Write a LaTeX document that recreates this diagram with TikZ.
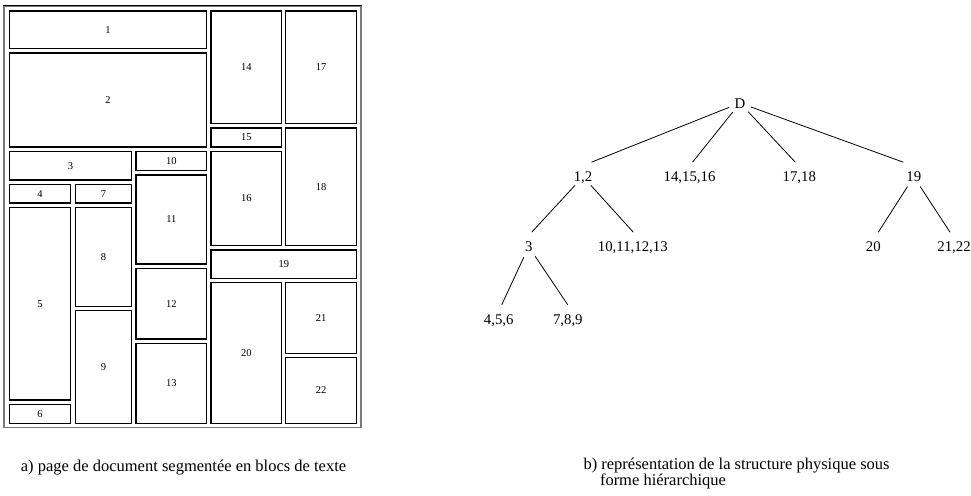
\documentclass[tikz,border=0pt]{standalone}
\usepackage{fontspec}
\setmainfont{Liberation Serif}
\usetikzlibrary{calc}
\definecolor{FrameGray}{HTML}{7A7A7A}

\begin{document}
\begin{tikzpicture}[
        x=1pt,y=-1pt,
        blk/.style={draw=black,line width=1.1pt},
        num/.style={font=\fontsize{10.5}{12}\selectfont,inner sep=0pt},
        lvl/.style={font=\fontsize{14.8}{16}\selectfont,text height=10pt,text depth=0pt,
                    circle,minimum size=23pt,inner sep=0pt},
        edge/.style={line width=0.8pt},
        legend/.style={font=\fontsize{16.5}{14}\selectfont,inner sep=0pt,align=left}
      ]
        \useasboundingbox (0,0) rectangle (971,495);
        % page frame
        \draw[FrameGray,line width=1.6pt] (4,6) rectangle (361,427.5);
        \draw[black,line width=1pt] (3.2,5.5) -- (361.8,5.5);
        % text blocks
        \foreach \n/\xa/\ya/\xb/\yb in {
            1/9.3/11/206.7/48.7, 2/9.3/53/206.7/147, 3/9.3/151.7/131.7/180,
            4/9.3/184.3/70.7/203, 5/9.3/207.7/70.7/400, 6/9.3/404.3/70.7/423.3,
            7/75.3/184.3/131.7/203, 8/75.3/207.7/131.7/306.7, 9/75.3/310.7/131.7/423.3,
            10/136/151.7/206.7/170.7, 11/136/175/206.7/264, 12/136/268.7/206.7/339,
            13/136/343.3/206.7/423.3, 14/211/11/281.7/123.7, 15/211/128/281.7/147,
            16/211/151.7/281.7/245.3, 17/285.7/11/356.7/123.7, 18/285.7/128/356.7/245.3,
            19/211/250/356.7/278.3, 20/211/282.7/281.7/423.3, 21/285.7/282.7/356.7/353.3,
            22/285.7/357.7/356.7/423.3}{
          \draw[blk] (\xa,\ya) rectangle (\xb,\yb);
          \node[num] (b\n) at ($(\xa,\ya)!.5!(\xb,\yb)$) {\n};
        }
        % hierarchy
        \node[lvl] (r) at (740,103) {D};
        \node[lvl] (t12) at (583,176.7) {1,2};
        \node[lvl] (t141516) at (689.5,176.7) {14,15,16};
        \node[lvl] (t1718) at (799.3,176.7) {17,18};
        \node[lvl] (t19) at (913.8,176.7) {19};
        \node[lvl] (t3) at (528.7,246.7) {3};
        \node[lvl] (t10to13) at (632.8,246.7) {10,11,12,13};
        \node[lvl] (t20) at (873.3,246.7) {20};
        \node[lvl] (t2122) at (954,246.7) {21,22};
        \node[lvl] (t456) at (498.7,319.3) {4,5,6};
        \node[lvl] (t789) at (567.8,319.3) {7,8,9};
        \foreach \p/\c/\dx in {r/t12/8.5, r/t141516/3, r/t1718/-4, r/t19/-10.5,
            t12/t3/3, t12/t10to13/0.5, t19/t20/5, t19/t2122/-4, t3/t456/3, t3/t789/0}
          \draw[edge] (\p) -- ([xshift=\dx pt,yshift=14.5pt]\c.center);
        % captions
        \node[legend,anchor=base west] (capa) at (20.7,471.5) {a) page de document segmentée en blocs de texte};
        \node[legend,anchor=base west] (capb) at (583.3,485.5)
          {b) représentation de la structure physique sous\\\hspace*{16.5pt}forme hiérarchique};
      \end{tikzpicture}
\end{document}
